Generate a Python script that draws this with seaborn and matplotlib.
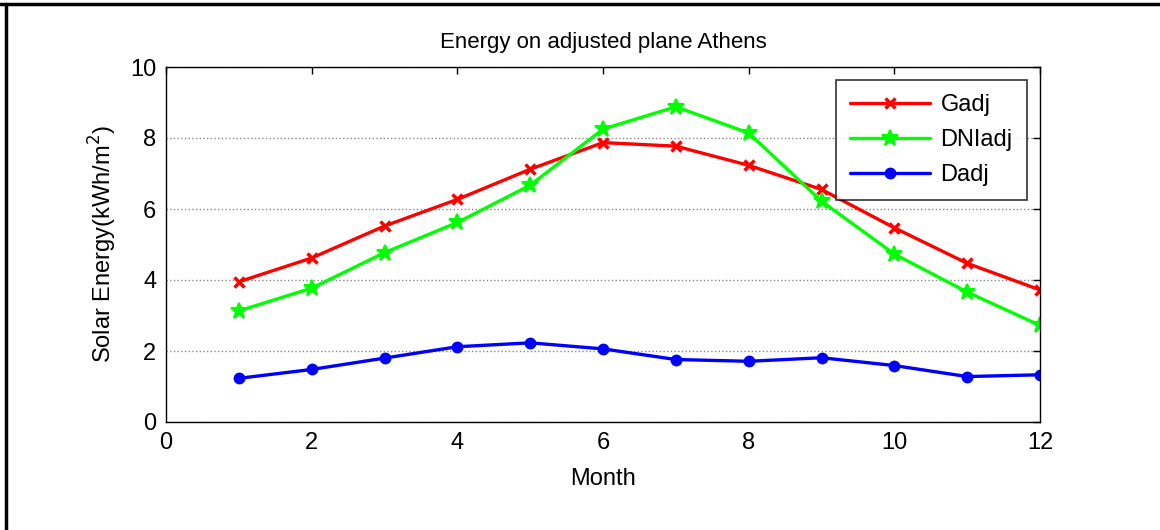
import numpy as np
import pandas as pd
import matplotlib
matplotlib.use("Agg")
import matplotlib.pyplot as plt
import seaborn as sns
from matplotlib.lines import Line2D

months = [1, 2, 3, 4, 5, 6, 7, 8, 9, 10, 11, 12]
gadj = [3.95, 4.62, 5.52, 6.27, 7.12, 7.87, 7.77, 7.23, 6.55, 5.47, 4.47, 3.72]
dniadj = [3.13, 3.77, 4.77, 5.62, 6.67, 8.25, 8.88, 8.14, 6.22, 4.73, 3.66, 2.72]
dadj = [1.23, 1.48, 1.80, 2.12, 2.23, 2.06, 1.76, 1.71, 1.81, 1.59, 1.28, 1.33]
series_names = ["Gadj", "DNIadj", "Dadj"]
colors = ["#ff0000", "#00ff00", "#0000ff"]
markers = ["x", "*", "o"]
xticks = [0, 2, 4, 6, 8, 10, 12]
yticks = [0, 2, 4, 6, 8, 10]

sns.set_theme(style="white")
plt.rcParams['font.family'] = ['Liberation Sans', 'DejaVu Sans']
plt.rcParams['text.color'] = 'black'
plt.rcParams['axes.labelcolor'] = 'black'

fig = plt.figure(figsize=(11.6, 5.3), dpi=100)
ax = fig.add_axes([166/1160, 1 - 422/530, (1040-166)/1160, (422-67)/530])

df = pd.DataFrame({"Month": months * 3,
                   "Value": gadj + dniadj + dadj,
                   "Series": sum([[n] * len(months) for n in series_names], [])})

handles = []
for name, col, mk in zip(series_names, colors, markers):
    sub = df[df["Series"] == name]
    ms = 7 if mk == "x" else (12 if mk == "*" else 7)
    mew = 2.5 if mk == "x" else 1.5
    sns.lineplot(data=sub, x="Month", y="Value", ax=ax, color=col, linewidth=2.4,
                 marker=mk, markersize=ms, markeredgewidth=mew, markeredgecolor=col,
                 markerfacecolor=col, legend=False)
    handles.append(Line2D([0], [0], color=col, linewidth=2.4, marker=mk, markersize=ms,
                          markeredgewidth=mew, markeredgecolor=col, markerfacecolor=col))

ax.set_xlim(0, 12)
ax.set_ylim(0, 10)
ax.set_xticks(xticks)
ax.set_yticks(yticks)
ax.yaxis.grid(True, color="#888888", linestyle=":", linewidth=1.0)
ax.xaxis.grid(False)
ax.set_axisbelow(True)
for s in ax.spines.values():
    s.set_color("black")
    s.set_linewidth(1.0)
ax.tick_params(direction="in", length=5, width=1, top=True, right=True,
               labelsize=17, colors="black", pad=7)
ax.set_xlabel("Month", fontsize=17, labelpad=10)
ax.set_ylabel("Solar Energy(kWh/m$^2$)", fontsize=17, labelpad=8)
ax.set_title("Energy on adjusted plane Athens", fontsize=16, pad=14)

leg = ax.legend(handles, ["Gadj", "DNIadj", "Dadj"], loc="upper right",
                bbox_to_anchor=(0.985, 0.963), borderaxespad=0, fontsize=17,
                frameon=True, fancybox=False, handlelength=3.4, labelspacing=0.55,
                borderpad=0.6, handletextpad=0.45)
leg.get_frame().set_edgecolor("black")
leg.get_frame().set_linewidth(1.2)
for t in leg.get_texts():
    t.set_color("black")

# outer figure border (top and left)
fig.add_artist(Line2D([0, 1], [1 - 4/530, 1 - 4/530], transform=fig.transFigure,
                      color="black", linewidth=2.5))
fig.add_artist(Line2D([6/1160, 6/1160], [0, 1 - 4/530], transform=fig.transFigure,
                      color="black", linewidth=2.5))

fig.savefig("out.png", dpi=100)
